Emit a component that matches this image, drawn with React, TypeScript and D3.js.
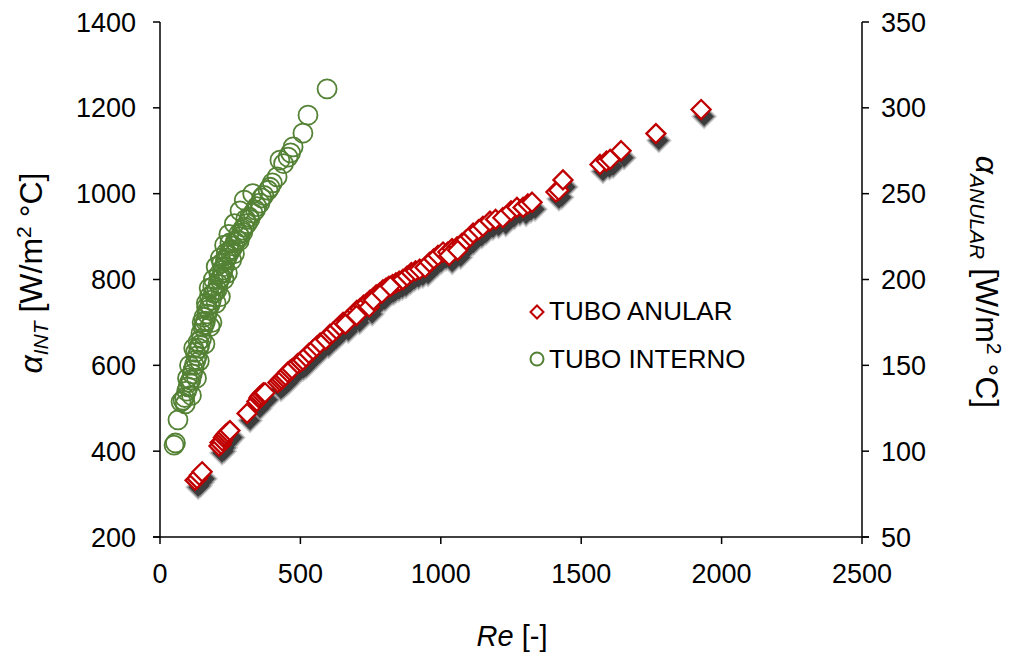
import React from "react";
import * as d3 from "d3";

// TUBO ANULAR: [Re, alpha_ANULAR (right axis, W/m2 °C)]
const anularRe = [125,132,140,150,210,214,218,222,226,231,236,242,249,310,345,352,356,362,368,374,420,427,433,440,447,455,463,470,490,500,509,520,530,545,558,570,590,605,615,628,640,652,665,678,690,701,712,725,736,748,758,770,782,794,805,815,828,840,852,865,880,895,910,925,944,960,975,990,1008,1025,1040,1058,1075,1090,1105,1115,1135,1150,1175,1195,1221,1250,1271,1293,1310,1325,1410,1420,1435,1567,1590,1603,1642,1766,1927,660,700,745,760,790,820,1030,1060];
const anularAlpha = [83,84,86,88,103,105,104,106,108,109,110,111,112,122,129,131,132,133,134,134,140,141,142,143,144,146,147,148,151,152,153,155,157,159,161,163,165,168,169,171,173,175,176,178,180,182,183,185,186,188,189,191,192,194,195,196,197,198,199,200,202,204,205,206,207,210,212,214,216,216,218,219,221,223,225,227,229,231,234,235,236,240,242,242,244,245,251,252,258,267,269,270,275,285,299,174,179,184,188,192,196,214,217];

// TUBO INTERNO: [Re, alpha_INT (left axis, W/m2 °C)]
const internoRe = [50,55,64,82,88,95,100,105,110,98,115,118,122,128,132,126,138,142,136,148,153,146,158,162,156,168,171,166,178,183,176,190,195,203,188,207,212,217,210,222,224,228,220,233,238,244,236,249,249,255,262,268,275,285,280,292,300,310,305,318,331,340,356,362,370,385,392,400,417,427,440,456,465,474,509,527,595,150,185,165,200,175,215,190,228,200,240,215,255,230,265,245,282,265,295,285,320,300,345,330,120,140,105,112,75,90,130,160,178];
const internoAlpha = [414,419,473,519,525,540,550,560,566,570,580,590,600,612,622,630,640,648,655,662,689,675,695,703,712,720,729,735,740,752,760,768,770,776,783,790,800,805,812,815,822,830,838,845,850,858,862,866,885,870,878,888,892,900,906,915,922,930,940,945,955,962,978,990,996,1008,1015,1025,1039,1078,1070,1085,1095,1109,1141,1183,1244,700,700,745,745,780,760,800,800,830,815,850,845,880,860,905,890,930,910,960,940,985,970,1000,640,610,600,530,515,510,570,650,690];

const xTicks = [0, 500, 1000, 1500, 2000, 2500];
const yLeftTicks = [200, 400, 600, 800, 1000, 1200, 1400];
const yRightTicks = [50, 100, 150, 200, 250, 300, 350];

const RED = "#C00000";
const GREEN = "#548235";
const FONT = "'Liberation Sans', Arial, sans-serif";
const SHADOW_LAYERS = [
  { grow: 3.5, color: "#d0d0d0" },
  { grow: 1.8, color: "#8c8c8c" },
  { grow: 0, color: "#3c3c3c" },
];

export default function App() {
  const x = d3.scaleLinear().domain([0, 2500]).range([160, 862]);
  const yL = d3.scaleLinear().domain([200, 1400]).range([537, 22]);
  const yR = d3.scaleLinear().domain([50, 350]).range([537, 22]);
  const dsz = 9.5;
  const diamond = (cx: number, cy: number, s: number) =>
    `M${cx},${cy - s}L${cx + s},${cy}L${cx},${cy + s}L${cx - s},${cy}Z`;

  const anular = anularRe.map((r, i) => [x(r), yR(anularAlpha[i])]);
  const interno = internoRe.map((r, i) => [x(r), yL(internoAlpha[i])]);

  return (
    <svg width={1009} height={654} style={{ position: "absolute", left: 0, top: 0, background: "#fff" }}
      fontFamily={FONT}>
      <rect width={1009} height={654} fill="#fff" />

      {/* soft shadows of diamonds */}
      {SHADOW_LAYERS.map((l, li) => (
        <g key={"L" + li}>
          {anular.map(([cx, cy], i) => (
            <path key={i} d={diamond(cx + 3, cy + 7, dsz + l.grow)} fill={l.color} stroke="none" />
          ))}
        </g>
      ))}
      {anular.map(([cx, cy], i) => (
        <path key={i} d={diamond(cx, cy, dsz)} fill="#fff" stroke={RED} strokeWidth={2.3} />
      ))}
      {interno.map(([cx, cy], i) => (
        <circle key={i} cx={cx} cy={cy} r={9.5} fill="none" stroke={GREEN} strokeWidth={1.8} />
      ))}

      {/* axes */}
      <g stroke="#000" strokeWidth={1.5}>
        <line x1={160} x2={160} y1={22} y2={537} />
        <line x1={862} x2={862} y1={22} y2={537} />
        <line x1={153} x2={869} y1={537} y2={537} />
        {yLeftTicks.map((t) => (
          <line key={t} x1={153} x2={160} y1={yL(t)} y2={yL(t)} />
        ))}
        {yRightTicks.map((t) => (
          <line key={t} x1={862} x2={869} y1={yR(t)} y2={yR(t)} />
        ))}
        {xTicks.map((t) => (
          <line key={t} x1={x(t)} x2={x(t)} y1={537} y2={544} />
        ))}
      </g>
      <g fontSize={27} fill="#000">
        {yLeftTicks.map((t) => (
          <text key={t} x={136} y={yL(t) + 9.5} textAnchor="end">{t}</text>
        ))}
        {yRightTicks.map((t) => (
          <text key={t} x={881} y={yR(t) + 9.5} textAnchor="start">{t}</text>
        ))}
        {xTicks.map((t) => (
          <text key={t} x={x(t)} y={583} textAnchor="middle">{t}</text>
        ))}
      </g>

      {/* axis titles */}
      <text x={512} y={646} textAnchor="middle" fontSize={29}>
        <tspan fontStyle="italic">Re</tspan> [-]
      </text>
      <text transform="translate(42,273) rotate(-90)" textAnchor="middle" fontSize={32}>
        <tspan fontStyle="italic">α</tspan>
        <tspan fontStyle="italic" fontSize={21} dy={6}>INT</tspan>
        <tspan dy={-6}> [W/m</tspan>
        <tspan fontSize={21} dy={-11}>2</tspan>
        <tspan dy={11}> °C]</tspan>
      </text>
      <text transform="translate(976,282) rotate(90)" textAnchor="middle" fontSize={32}>
        <tspan fontStyle="italic">α</tspan>
        <tspan fontStyle="italic" fontSize={21} dy={6}>ANULAR</tspan>
        <tspan dy={-6}> [W/m</tspan>
        <tspan fontSize={21} dy={-11}>2</tspan>
        <tspan dy={11}> °C]</tspan>
      </text>

      {/* legend */}
      <path d={diamond(537, 312, 6.5)} fill="#fff" stroke={RED} strokeWidth={2} />
      <text x={549} y={320} fontSize={26}>TUBO ANULAR</text>
      <circle cx={537} cy={359} r={6.5} fill="none" stroke={GREEN} strokeWidth={2} />
      <text x={549} y={368} fontSize={26}>TUBO INTERNO</text>
    </svg>
  );
}
